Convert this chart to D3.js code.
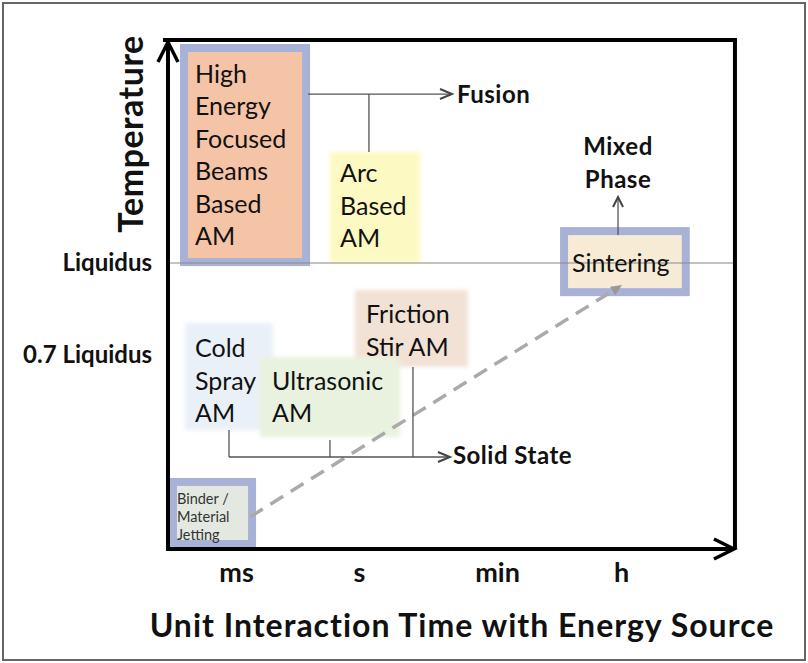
<!DOCTYPE html>
<html>
<head>
<meta charset="utf-8">
<script src="https://cdn.jsdelivr.net/npm/d3@7"></script>
<style>
  body { margin: 0; background: #fff; }
  svg { display: block; font-family: Lato, "Open Sans", sans-serif; }
</style>
</head>
<body>
<script>
// ---------- data ----------
const timeCats = ["ms", "s", "min", "h"];          // x categories (log-ish time index 0..3)
const timeIndex = [0, 1, 2, 3];
const tempTicks = [0.7, 1.0];                       // fraction of liquidus
const tempLabels = ["0.7 Liquidus", "Liquidus"];
const timeExtent = [-0.553, 3.919];
const tempExtent = [0.0674, 1.727];

const processes = ["High Energy Focused Beams Based AM", "Arc Based AM", "Sintering",
  "Friction Stir AM", "Cold Spray AM", "Ultrasonic AM", "Binder / Material Jetting"];
const processLines = [["High", "Energy", "Focused", "Beams", "Based", "AM"], ["Arc", "Based", "AM"],
  ["Sintering"], ["Friction", "Stir AM"], ["Cold", "Spray", "AM"], ["Ultrasonic", "AM"],
  ["Binder /", "Material", "Jetting"]];
const timeFrom = [-0.39, 0.764, 2.573, 0.967, -0.415, 0.195, -0.48];
const timeTo   = [0.537, 1.442, 3.49, 1.79, 0.301, 1.297, 0.098];
const tempHigh = [1.688, 1.362, 1.091, 0.912, 0.804, 0.6935, 0.273];
const tempLow  = [1.016, 1.0, 0.918, 0.661, 0.4554, 0.4326, 0.0967];
const labelTime = [-0.333, 0.846, 2.605, 1.051, -0.333, 0.293, -0.48];
const labelTemp = [1.587, 1.264, 0.971, 0.804, 0.693, 0.586, 0.214];

// connectors
const fusionTemp = 1.551, fusionTime = [0.585, 1.674], fusionDropTime = [1.072], fusionDropTemp = [1.362];
const solidTemp = 0.3674, solidTime = [-0.057, 1.659];
const solidDropTime = [-0.057, 0.764, 1.391], solidDropTemp = [0.4554, 0.423, 0.661];
const mixedTime = 2.976, mixedTemp = [1.091, 1.215];
const groupLabels = ["Fusion", "Solid State", "Mixed Phase"];
const trendTime = [0.114, 3.008], trendTemp = [0.172, 0.928];

// ---------- style ----------
const fills = ["#f5c4a6", "#fdf9c2", "#f8ebd5", "#f2e1d5", "#eaf0f8", "#e9f2de", "#e3e8e0"];
const framed = [true, false, true, false, false, false, true];
const frameColor = "#a8b2d7";
const soft = [false, true, false, true, true, true, false];

const W = 808, H = 663;
const svg = d3.select("body").append("svg").attr("width", W).attr("height", H);
const defs = svg.append("defs");
defs.append("filter").attr("id", "soft").attr("x", "-10%").attr("y", "-10%").attr("width", "120%").attr("height", "120%")
  .append("feGaussianBlur").attr("stdDeviation", 2);

const x = d3.scaleLinear().domain([0, 1, 2, 3]).range([236, 359, 497, 621]);
const y = d3.scaleLinear().domain([0.7, 1.0]).range([355, 263]);

// outer frame
svg.append("rect").attr("x", 3).attr("y", 3).attr("width", W - 6).attr("height", H - 6)
  .attr("fill", "#fff").attr("stroke", "#666").attr("stroke-width", 2);

const X0 = x(timeExtent[0]), X1 = x(timeExtent[1]);
const Y0 = y(tempExtent[0]), Y1 = y(tempExtent[1]);

// boxes
const boxes = svg.append("g");
processes.forEach((p, i) => {
  const bx = x(timeFrom[i]), bw = x(timeTo[i]) - bx;
  const by = y(tempHigh[i]), bh = y(tempLow[i]) - by;
  if (framed[i]) {
    const pad = 8;
    boxes.append("rect").attr("x", bx - pad).attr("y", by - pad).attr("width", bw + 2 * pad).attr("height", bh + 2 * pad)
      .attr("fill", frameColor);
  }
  const r = boxes.append("rect").attr("x", bx).attr("y", by).attr("width", bw).attr("height", bh).attr("fill", fills[i]);
  if (soft[i]) r.attr("filter", "url(#soft)");
});

// liquidus line
svg.append("line").attr("x1", X0).attr("x2", X1).attr("y1", y(1)).attr("y2", y(1))
  .attr("stroke", "#888").attr("stroke-width", 1.2);

// dashed trend arrow
{
  const ax = x(trendTime[0]), ay = y(trendTemp[0]), bx = x(trendTime[1]), by = y(trendTemp[1]);
  const ang = Math.atan2(by - ay, bx - ax);
  const L = 11, hw = 5;
  svg.append("line").attr("x1", ax).attr("y1", ay)
    .attr("x2", bx - L * Math.cos(ang)).attr("y2", by - L * Math.sin(ang))
    .attr("stroke", "#aaaaaa").attr("stroke-width", 3.5).attr("stroke-dasharray", "15,9");
  const p = d3.path();
  p.moveTo(bx, by);
  p.lineTo(bx - L * Math.cos(ang) + hw * Math.sin(ang), by - L * Math.sin(ang) - hw * Math.cos(ang));
  p.lineTo(bx - L * Math.cos(ang) - hw * Math.sin(ang), by - L * Math.sin(ang) + hw * Math.cos(ang));
  p.closePath();
  svg.append("path").attr("d", p.toString()).attr("fill", "#999");
}

// process labels
processes.forEach((p, i) => {
  const small = i === 6;
  const t = svg.append("text").attr("x", x(labelTime[i])).attr("y", y(labelTemp[i]))
    .attr("font-size", small ? 14.5 : 25).attr("fill", small ? "#333" : "#111");
  processLines[i].forEach((ln, k) => {
    t.append("tspan").attr("x", x(labelTime[i])).attr("dy", k === 0 ? 0 : (small ? 18 : 32.5)).text(ln);
  });
});

// connectors
const conn = svg.append("g").attr("stroke", "#555").attr("stroke-width", 1.3).attr("fill", "none");
function chevron(g, tx, ty, dir, len, half, sw, col) {
  const p = d3.path();
  if (dir === "right") { p.moveTo(tx - len, ty - half); p.lineTo(tx, ty); p.lineTo(tx - len, ty + half); }
  else { p.moveTo(tx - half, ty + len); p.lineTo(tx, ty); p.lineTo(tx + half, ty + len); }
  g.append("path").attr("d", p.toString()).attr("stroke", col).attr("stroke-width", sw).attr("fill", "none")
    .attr("stroke-linejoin", "miter");
}
// fusion
conn.append("line").attr("x1", x(fusionTime[0])).attr("x2", x(fusionTime[1]) - 1).attr("y1", y(fusionTemp)).attr("y2", y(fusionTemp));
fusionDropTime.forEach((t, k) => conn.append("line").attr("x1", x(t)).attr("x2", x(t)).attr("y1", y(fusionTemp)).attr("y2", y(fusionDropTemp[k])));
chevron(conn, x(fusionTime[1]), y(fusionTemp), "right", 12, 5, 2, "#444");
// solid state
conn.append("line").attr("x1", x(solidTime[0])).attr("x2", x(solidTime[1]) - 1).attr("y1", y(solidTemp)).attr("y2", y(solidTemp));
solidDropTime.forEach((t, k) => conn.append("line").attr("x1", x(t)).attr("x2", x(t)).attr("y1", y(solidTemp)).attr("y2", y(solidDropTemp[k])));
chevron(conn, x(solidTime[1]), y(solidTemp), "right", 12, 5, 2, "#444");
// mixed phase
conn.append("line").attr("x1", x(mixedTime)).attr("x2", x(mixedTime)).attr("y1", y(mixedTemp[0])).attr("y2", y(mixedTemp[1]) + 1);
chevron(conn, x(mixedTime), y(mixedTemp[1]), "up", 10, 5, 2, "#444");

const gl = svg.append("g").attr("font-weight", "bold").attr("font-size", 24).attr("letter-spacing", 0.5).attr("fill", "#111");
gl.append("text").attr("x", x(fusionTime[1]) + 5).attr("y", y(fusionTemp) + 9).text(groupLabels[0]);
gl.append("text").attr("x", x(solidTime[1]) + 3).attr("y", y(solidTemp) + 7).text(groupLabels[1]);
const mp = gl.append("text").attr("text-anchor", "middle").attr("x", x(mixedTime)).attr("y", y(mixedTemp[1]) - 42);
groupLabels[2].split(" ").forEach((w, k) => mp.append("tspan").attr("x", x(mixedTime)).attr("dy", k ? 33 : 0).text(w));

// frame lines (top, right)
svg.append("line").attr("x1", X0 - 5).attr("x2", X1 + 2).attr("y1", Y1).attr("y2", Y1).attr("stroke", "#000").attr("stroke-width", 4);
svg.append("line").attr("x1", X1).attr("x2", X1).attr("y1", Y1).attr("y2", Y0).attr("stroke", "#000").attr("stroke-width", 4);
// axis lines with arrows
svg.append("line").attr("x1", X0).attr("x2", X0).attr("y1", Y0 + 2).attr("y2", Y1 + 2).attr("stroke", "#000").attr("stroke-width", 4);
svg.append("line").attr("x1", X0 - 2).attr("x2", X1 - 1).attr("y1", Y0).attr("y2", Y0).attr("stroke", "#000").attr("stroke-width", 4);
chevron(svg, X0, Y1 + 2, "up", 20, 10, 3.5, "#000");
chevron(svg, X1 - 1, Y0, "right", 20, 10, 3.5, "#000");

// x axis (labels only)
const xa = svg.append("g").attr("transform", `translate(0,${Y0})`)
  .call(d3.axisBottom(x).tickValues(timeIndex).tickFormat(i => timeCats[i]).tickSize(0).tickPadding(14));
xa.select(".domain").remove();
xa.selectAll("text").attr("font-family", "Lato, sans-serif").attr("font-size", 27).attr("font-weight", "bold").attr("fill", "#111");

// y axis (labels only)
const ya = svg.append("g").attr("transform", `translate(${X0},0)`)
  .call(d3.axisLeft(y).tickValues(tempTicks).tickFormat((d, i) => tempLabels[i]).tickSize(0).tickPadding(16));
ya.select(".domain").remove();
ya.selectAll("text").attr("font-family", "Lato, sans-serif").attr("font-size", 24).attr("font-weight", "bold").attr("fill", "#111");

// axis titles
svg.append("text").attr("transform", `translate(143,134) rotate(-90)`)
  .attr("text-anchor", "middle").attr("font-size", 34).attr("letter-spacing", 0.5).attr("font-weight", "bold").attr("fill", "#111").text("Temperature");
svg.append("text").attr("x", 462).attr("y", 637).attr("text-anchor", "middle")
  .attr("font-size", 32).attr("letter-spacing", 1).attr("font-weight", "bold").attr("fill", "#111").text("Unit Interaction Time with Energy Source");
</script>
</body>
</html>
